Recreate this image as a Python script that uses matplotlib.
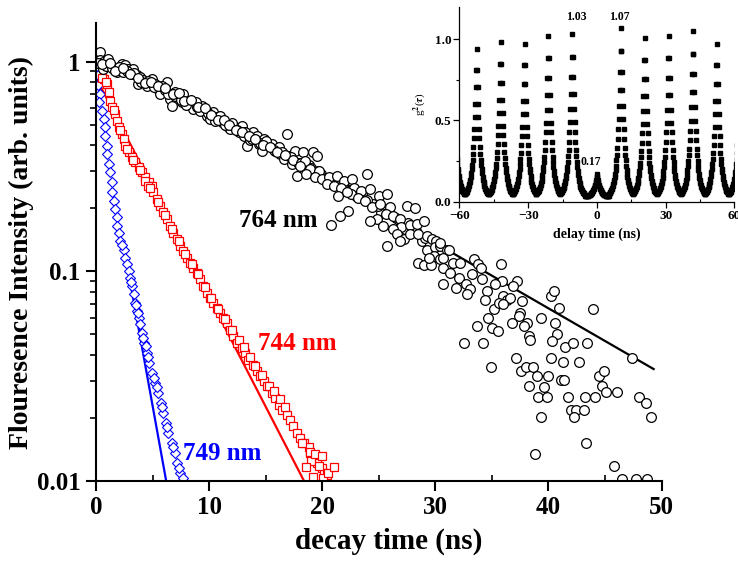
import numpy as np
import matplotlib
matplotlib.use("Agg")
import matplotlib.pyplot as plt
from matplotlib.ticker import MultipleLocator, LogLocator, NullFormatter

plt.rcParams["font.family"] = ["Liberation Serif", "DejaVu Serif"]
plt.rcParams["font.weight"] = "bold"
plt.rcParams["mathtext.fontset"] = "stix"

# 764 nm decay (black circles)
t764 = [0.35, 0.35, 0.65, 1.09, 0.65, 1.09, 1.68, 1.83, 2.27, 2.57,
        2.42, 2.86, 3.16, 3.30, 3.60, 3.90, 4.19, 3.75, 4.48, 4.93,
        5.22, 5.52, 5.66, 6.25, 6.11, 6.55, 6.70, 6.99, 7.29, 7.58,
        7.73, 8.17, 8.47, 8.61, 8.91, 9.35, 9.65, 9.79, 10.09, 10.38,
        10.68, 11.12, 11.56, 11.86, 12.30, 12.60, 12.89, 13.04, 13.33, 13.63,
        13.92, 14.22, 14.37, 14.66, 14.81, 15.25, 15.55, 15.84, 16.14, 16.28,
        16.58, 16.87, 17.02, 17.32, 17.61, 17.76,
        0.2, 0.9, 1.4, 2.0, 2.7, 3.4, 4.0, 4.6, 5.1, 5.8,
        6.4, 7.0, 7.5, 8.0, 8.8, 9.2, 9.9, 10.5, 11.0, 11.4,
        12.0, 12.5, 13.2, 13.8, 14.5, 15.0, 15.7, 16.4, 17.2, 17.9,
        18.8, 19.9, 20.9, 22.0, 23.0, 24.5, 25.2, 26.5, 27.3, 28.0,
        28.8, 29.5,
        0.5, 1.2, 1.7, 2.4, 3.0, 3.7, 4.3, 4.9, 5.5, 6.1,
        6.8, 7.3, 7.8, 8.4, 9.0, 9.6, 10.2, 10.8, 11.3, 11.8,
        12.4, 12.9, 13.5, 14.1, 14.8, 15.4, 16.0, 16.7, 17.4, 18.1,
        19.0, 19.6, 20.3, 21.1, 21.8, 22.5, 23.5, 24.0, 24.9, 25.9,
        26.8, 27.6, 28.3, 29.1,
        18.3, 19.2, 19.5, 18.5, 18.05, 18.9, 19.7, 18.6, 19.4, 20.0,
        20.6, 21.3, 20.4, 21.0, 21.9, 21.7, 22.6, 22.8, 24.0, 23.4,
        24.2, 22.5, 23.2, 23.8, 21.4, 22.2, 25.0, 25.7, 24.4, 25.1,
        26.0, 25.6, 24.8, 24.2, 25.4, 26.3, 26.9, 27.0, 27.5, 28.2,
        27.8, 28.4, 28.96, 26.3, 26.6, 27.2, 26.9, 27.8, 28.5, 29.3,
        29.7, 30.1, 25.7, 22.3, 21.6, 20.8, 29.3, 30.0, 30.4, 28.5,
        28.96, 29.6, 29.85, 29.4, 30.4,
        31.0, 30.7, 30.4, 31.2, 31.6, 30.7, 32.2, 31.3, 32.1, 30.7,
        31.8, 32.7, 33.1, 32.8, 33.4, 33.8, 34.0, 33.2, 34.1, 34.6,
        34.4, 35.2, 34.7, 35.8, 35.9, 35.3, 36.0, 35.6, 36.3, 36.6,
        36.0, 37.2, 36.9, 37.7, 37.5, 37.4, 36.8, 38.1, 37.8, 35.0,
        35.5, 33.7, 32.5, 34.2, 38.3, 38.4, 34.9, 37.1, 37.6, 38.0,
        38.6, 39.0, 38.3, 39.3, 39.6, 40.0, 39.1, 39.9, 39.3, 40.2,
        40.5, 40.9, 40.6, 40.8, 40.3, 41.5, 42.2, 43.4, 40.2, 41.3,
        42.7, 41.1, 41.4, 41.7, 42.0, 42.4, 42.3, 43.1, 43.2, 44.1,
        44.5, 44.9, 44.7, 45.1, 46.1, 43.9, 47.4, 48.0, 48.6, 49.1,
        43.3, 38.8, 45.8, 46.5, 47.7, 48.7]
i764 = [1.112, 1.015, 0.996, 0.96, 0.926, 1.033, 0.926, 0.892, 0.978, 0.96,
        0.892, 0.926, 0.876, 0.926, 0.86, 0.845, 0.814, 0.785, 0.77, 0.829,
        0.785, 0.743, 0.703, 0.799, 0.729, 0.665, 0.618, 0.716, 0.677, 0.641,
        0.703, 0.653, 0.630, 0.596, 0.607, 0.618, 0.585, 0.553, 0.533, 0.574,
        0.543, 0.514, 0.495, 0.478, 0.486, 0.46, 0.495, 0.444, 0.398, 0.421,
        0.46, 0.444, 0.406, 0.377, 0.428, 0.398, 0.406, 0.377, 0.391, 0.363,
        0.343, 0.453, 0.356, 0.325, 0.377, 0.286,
        0.99, 0.95, 0.93, 0.94, 0.90, 0.88, 0.80, 0.81, 0.76, 0.77,
        0.70, 0.69, 0.66, 0.62, 0.64, 0.58, 0.57, 0.52, 0.55, 0.50,
        0.51, 0.47, 0.46, 0.43, 0.41, 0.42, 0.38, 0.37, 0.35, 0.33,
        0.32, 0.29, 0.27, 0.25, 0.23, 0.21, 0.19, 0.18, 0.16, 0.155,
        0.14, 0.135,
        0.97, 0.99, 0.90, 0.93, 0.87, 0.84, 0.79, 0.80, 0.77, 0.75,
        0.70, 0.71, 0.65, 0.66, 0.61, 0.60, 0.56, 0.53, 0.53, 0.50,
        0.47, 0.46, 0.44, 0.43, 0.40, 0.39, 0.37, 0.36, 0.34, 0.33,
        0.31, 0.30, 0.28, 0.27, 0.26, 0.245, 0.235, 0.22, 0.205, 0.19,
        0.175, 0.17, 0.155, 0.145,
        0.370, 0.370, 0.356, 0.337, 0.319, 0.308, 0.302, 0.291, 0.281, 0.275,
        0.281, 0.286, 0.261, 0.256, 0.270, 0.251, 0.275, 0.251, 0.291, 0.242,
        0.247, 0.233, 0.225, 0.217, 0.229, 0.238, 0.229, 0.233, 0.202, 0.209,
        0.202, 0.187, 0.177, 0.174, 0.165, 0.184, 0.177, 0.162, 0.204, 0.200,
        0.166, 0.168, 0.174, 0.159, 0.150, 0.142, 0.140, 0.150, 0.150, 0.148,
        0.142, 0.140, 0.132, 0.195, 0.183, 0.166, 0.127, 0.130, 0.132, 0.110,
        0.107, 0.107, 0.118, 0.116, 0.114,
        0.127, 0.116, 0.137, 0.127, 0.110, 0.104, 0.110, 0.0986, 0.0934, 0.0867,
        0.0836, 0.0867, 0.082, 0.0776, 0.114, 0.108, 0.104, 0.0968, 0.0917, 0.0805,
        0.073, 0.0658, 0.060, 0.108, 0.090, 0.0867, 0.0762, 0.0708, 0.073, 0.0748,
        0.0695, 0.090, 0.0851, 0.0721, 0.0634, 0.061, 0.0568, 0.0568, 0.0547, 0.0537,
        0.0518, 0.0547, 0.0453, 0.0453, 0.0491, 0.0469, 0.035, 0.0386, 0.0333, 0.035,
        0.035, 0.0318, 0.0285, 0.060, 0.0282, 0.0318, 0.0251, 0.0251, 0.0202, 0.0762,
        0.0805, 0.067, 0.0568, 0.050, 0.0464, 0.0436, 0.0453, 0.0453, 0.0386, 0.0368,
        0.0368, 0.0302, 0.0302, 0.0251, 0.0219, 0.0219, 0.0202, 0.0219, 0.0251, 0.0251,
        0.0318, 0.0333, 0.0285, 0.0267, 0.0267, 0.0658, 0.0386, 0.0251, 0.0235, 0.0202,
        0.0151, 0.0135, 0.0118, 0.0102, 0.0102, 0.0102]

# 744 nm decay (red squares)
t744 = [0.68, 0.97, 1.12, 1.27, 1.42, 1.71, 1.86, 2.0, 2.3, 2.45,
        2.6, 2.89, 3.19, 3.48, 3.78, 4.07, 4.36, 4.66, 4.96,
        4.34, 4.63, 5.07, 5.37, 5.66, 5.96, 6.25, 6.55, 6.84, 7.14,
        7.43, 7.73, 8.02, 8.32, 8.61, 8.91, 9.2, 9.5, 9.79, 10.09,
        10.38, 10.68, 10.97, 11.27, 11.56, 11.86, 12.15, 12.45, 12.89, 13.19,
        13.48, 13.92, 14.22, 14.51, 14.81, 15.1, 15.55, 15.84, 16.14, 16.43,
        16.87, 17.17, 17.46, 17.76, 18.05, 18.35, 18.79, 18.94, 19.23, 19.53,
        19.97, 20.12, 20.41,
        4.8, 5.5, 6.1, 6.7, 7.3, 7.9, 8.5, 9.05, 9.65, 10.2,
        10.8, 11.4, 12.0, 12.6, 13.05, 13.6, 14.1, 14.65, 15.3, 15.7,
        16.3, 16.7, 19.0, 19.7, 18.2, 18.6, 18.9, 19.2, 19.4, 20.0,
        20.1, 20.5, 21.0, 0.5, 0.85, 1.55, 2.15, 2.75, 3.3, 3.9]
i744 = [0.83, 0.785, 0.716, 0.653, 0.607, 0.564, 0.524, 0.487, 0.453, 0.428,
        0.398, 0.37, 0.35, 0.331, 0.313, 0.297, 0.281, 0.266, 0.256,
        0.270, 0.256, 0.238, 0.221, 0.205, 0.191, 0.177, 0.165, 0.153, 0.142,
        0.132, 0.125, 0.116, 0.110, 0.104, 0.0986, 0.0917, 0.0851, 0.0791, 0.0748,
        0.0708, 0.067, 0.0634, 0.060, 0.0568, 0.0528, 0.0491, 0.0456, 0.0432, 0.0408,
        0.0379, 0.0359, 0.0333, 0.0316, 0.0299, 0.0283, 0.0262, 0.0249, 0.0231, 0.0219,
        0.0207, 0.0196, 0.0182, 0.0169, 0.016, 0.0151, 0.0146, 0.0136, 0.0128, 0.0122,
        0.0115, 0.0109, 0.0107,
        0.25, 0.215, 0.186, 0.160, 0.139, 0.121, 0.108, 0.097, 0.084, 0.0745,
        0.0665, 0.0595, 0.0525, 0.047, 0.0435, 0.039, 0.0355, 0.032, 0.0285, 0.027,
        0.0245, 0.0225, 0.0125, 0.0118, 0.0152, 0.0117, 0.0137, 0.0105, 0.0135, 0.0132,
        0.0103, 0.0109, 0.0116, 0.84, 0.80, 0.59, 0.47, 0.385, 0.34, 0.305]

# 749 nm decay (blue diamonds)
t749 = [0.05, 0.24, 0.2, 0.18, 0.38, 0.29, 0.53, 0.68, 0.83, 0.83,
        0.97, 0.97, 1.12, 1.27, 1.42, 1.42, 1.56, 1.71, 1.86, 1.86,
        2.0, 2.15, 2.45, 2.6, 2.74, 2.89, 3.04, 3.19, 3.34, 3.48,
        3.63, 3.78, 3.92, 4.04, 4.25, 4.48, 4.72, 4.93, 5.22, 5.52,
        5.72, 5.96, 6.19, 6.4, 6.7, 6.99, 7.2, 7.43, 7.67, 2.3,
        3.1, 3.7, 4.15, 4.6, 5.1, 5.35, 5.85, 6.3, 6.85, 7.3,
        4.4, 3.5]
i749 = [0.95, 0.978, 0.861, 0.771, 0.703, 0.641, 0.585, 0.534, 0.487, 0.444,
        0.398, 0.363, 0.325, 0.297, 0.266, 0.238, 0.217, 0.198, 0.181, 0.165,
        0.153, 0.140, 0.127, 0.116, 0.108, 0.100, 0.093, 0.085, 0.078, 0.071,
        0.065, 0.060, 0.056, 0.0509, 0.0456, 0.0408, 0.0366, 0.0327, 0.0293, 0.0263,
        0.0235, 0.0211, 0.0189, 0.0169, 0.0151, 0.0136, 0.0122, 0.0109, 0.0103, 0.133,
        0.089, 0.063, 0.048, 0.039, 0.031, 0.028, 0.0225, 0.018, 0.0145, 0.0115,
        0.044, 0.069]

# single-exponential fits (end points)
fit764_t = [5.0, 49.3]
fit764_i = [0.82, 0.0342]
fit744_t = [0.0, 18.35]
fit744_i = [0.84, 0.0101]
fit749_t = [3.04, 6.19]
fit749_i = [0.088, 0.0101]

# g2(tau) inset: peak positions / heights and the normalised peak shape
peak_t = [-62.9, -52.5, -42.0, -31.6, -21.2, -10.8, 0.0, 10.5, 20.9, 31.4, 41.9, 52.3, 62.7]
peak_g2 = [0.97, 0.94, 0.98, 0.97, 1.02, 1.03, 0.17, 1.07, 1.01, 1.02, 1.05, 0.97, 0.97]
g2_floor = 0.03
shape_step = 0.2  # ns between samples
peak_shape = [1.0, 0.86, 0.74, 0.63, 0.54, 0.46, 0.40, 0.34, 0.29, 0.25,
              0.215, 0.185, 0.16, 0.135, 0.115, 0.10, 0.085, 0.073, 0.062, 0.054,
              0.046, 0.039, 0.034, 0.029, 0.025, 0.021, 0.018]

shape = np.array(peak_shape)
offs = np.arange(-(len(shape) - 1), len(shape)) * shape_step
prof = np.concatenate([shape[:0:-1], shape])
g2_t = np.concatenate([c + offs for c in peak_t])
g2_v = np.concatenate([g2_floor + (h - g2_floor) * prof for h in peak_g2])

fig = plt.figure(figsize=(7.38, 5.61), dpi=100)
ax = fig.add_axes([0.1301, 0.1426, 0.7663, 0.8164])

ax.plot(fit749_t, fit749_i, color="blue", lw=1.6)
ax.plot(fit744_t, fit744_i, color="red", lw=1.6)
ax.plot(fit764_t, fit764_i, color="black", lw=1.6)
ax.plot(t749, i749, "D", ms=5.0, mfc="white", mec="blue", mew=0.8, ls="none")
ax.plot(t744, i744, "s", ms=5.4, mfc="white", mec="red", mew=0.9, ls="none")
ax.plot(t764, i764, "o", ms=7.0, mfc="white", mec="black", mew=0.9, ls="none")

ax.set_yscale("log")
ax.set_xlim(0, 50)
ax.set_ylim(0.01, 1.53)
ax.set_yticks([0.01, 0.1, 1])
ax.set_yticklabels(["0.01", "0.1", "1"])
ax.yaxis.set_minor_locator(LogLocator(base=10, subs=np.arange(2, 10)))
ax.yaxis.set_minor_formatter(NullFormatter())
ax.xaxis.set_major_locator(MultipleLocator(10))
ax.xaxis.set_minor_locator(MultipleLocator(5))
ax.tick_params(axis="both", which="major", direction="out", length=7, width=1.5,
               labelsize=18, pad=4)
ax.tick_params(axis="y", which="minor", direction="out", length=4, width=1.2)
ax.tick_params(axis="x", which="minor", direction="in", length=4, width=1.2)
for s in ["top", "right"]:
    ax.spines[s].set_visible(False)
for s in ["left", "bottom"]:
    ax.spines[s].set_linewidth(1.5)

ax.set_xlabel("decay time (ns)", fontsize=21, fontweight="bold", x=0.517, labelpad=6)
ax.set_ylabel("Flouresence Intensity (arb. units)", fontsize=20, fontweight="bold", labelpad=2)

ax.text(12.6, 0.163, "764 nm", fontsize=18, fontweight="bold", color="black", va="baseline")
ax.text(14.3, 0.0421, "744 nm", fontsize=18, fontweight="bold", color="red", va="baseline")
ax.text(7.7, 0.0126, "749 nm", fontsize=18, fontweight="bold", color="blue", va="baseline")

# inset: second-order correlation
axin = fig.add_axes([0.6226, 0.6405, 0.3726, 0.3476])
axin.set_facecolor("none")
axin.plot(g2_t, g2_v, "s", ms=3.4, color="black", ls="none")
axin.set_xlim(-60, 60)
axin.set_ylim(0, 1.2)
axin.xaxis.set_major_locator(MultipleLocator(30))
axin.xaxis.set_minor_locator(MultipleLocator(15))
axin.yaxis.set_major_locator(MultipleLocator(0.5))
axin.yaxis.set_minor_locator(MultipleLocator(0.25))
axin.yaxis.set_major_formatter(matplotlib.ticker.FormatStrFormatter("%.1f"))
axin.tick_params(axis="both", which="major", direction="out", length=4, width=0.9,
                 labelsize=9.5, pad=2)
axin.tick_params(axis="y", which="minor", direction="out", length=2.5, width=0.8)
axin.tick_params(axis="x", which="minor", direction="in", length=2.5, width=0.8)
for s in ["top", "right"]:
    axin.spines[s].set_visible(False)
for s in ["left", "bottom"]:
    axin.spines[s].set_linewidth(0.9)
axin.set_xlabel("delay time (ns)", fontsize=10, fontweight="bold", labelpad=4)
axin.set_ylabel(r"g$^2$($\tau$)", fontsize=8, fontweight="normal", labelpad=5)

axin.text(-8.9, 1.12, "1.03", fontsize=8.5, fontweight="bold", ha="center", va="baseline")
axin.text(9.6, 1.12, "1.07", fontsize=8.5, fontweight="bold", ha="center", va="baseline")
axin.text(-2.75, 0.225, "0.17", fontsize=8.5, fontweight="bold", ha="center", va="baseline")

fig.savefig("out.png", dpi=100)
